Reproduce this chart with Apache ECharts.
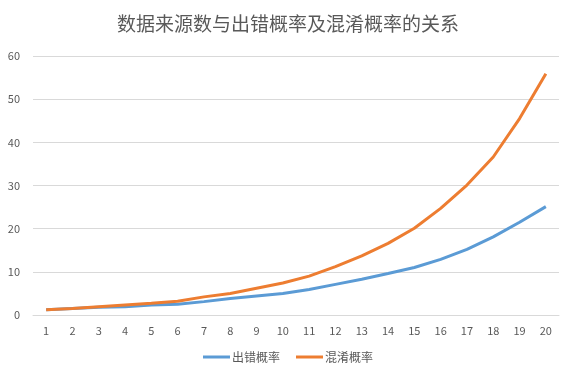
<!DOCTYPE html>
<html>
<head>
<meta charset="utf-8">
<script src="https://cdn.jsdelivr.net/npm/echarts@6/dist/echarts.min.js"></script>
<style>html,body{margin:0;padding:0;background:#fff}#c{width:576px;height:376px}</style>
</head>
<body>
<div id="c"></div>
<script>
var categories = ['1','2','3','4','5','6','7','8','9','10','11','12','13','14','15','16','17','18','19','20'];
var errorProb = [1.2, 1.5, 1.8, 1.9, 2.3, 2.5, 3.1, 3.8, 4.4, 5.0, 5.9, 7.1, 8.3, 9.6, 11.0, 12.9, 15.2, 18.1, 21.5, 25.1];
var confuseProb = [1.2, 1.5, 1.9, 2.3, 2.7, 3.2, 4.2, 5.0, 6.2, 7.4, 9.0, 11.2, 13.7, 16.6, 20.1, 24.7, 30.1, 36.6, 45.5, 55.9];
var seriesNames = ['出错概率', '混淆概率'];
var titleText = '数据来源数与出错概率及混淆概率的关系';

var chart = echarts.init(document.getElementById('c'), null, {renderer: 'canvas'});
var font = '"Noto Sans CJK SC", "Noto Sans", sans-serif';
chart.setOption({
  animation: false,
  backgroundColor: '#fff',
  title: {
    text: titleText, left: 'center', top: 9,
    textStyle: {fontFamily: font, fontSize: 19, fontWeight: 'normal', color: '#595959'}
  },
  legend: {
    bottom: 8, left: 'center', icon: 'rect', itemWidth: 27, itemHeight: 3, itemGap: 16,
    textStyle: {fontFamily: font, fontSize: 12, color: '#595959', padding: [0, 0, 0, -3]},
    data: seriesNames
  },
  grid: {left: 33, right: 17, top: 56, bottom: 61, containLabel: false},
  xAxis: {
    type: 'category', data: categories, boundaryGap: true,
    axisLine: {lineStyle: {color: '#d9d9d9'}},
    axisTick: {show: false},
    axisLabel: {color: '#595959', fontSize: 11, fontFamily: font, margin: 10}
  },
  yAxis: {
    type: 'value', min: 0, max: 60, interval: 10,
    axisLine: {show: false}, axisTick: {show: false},
    axisLabel: {color: '#595959', fontSize: 11, fontFamily: font, margin: 13},
    splitLine: {lineStyle: {color: '#d9d9d9'}}
  },
  series: [
    {name: seriesNames[0], type: 'line', data: errorProb, showSymbol: false, symbol: 'none',
     lineStyle: {width: 3, color: '#5B9BD5'}, itemStyle: {color: '#5B9BD5'}},
    {name: seriesNames[1], type: 'line', data: confuseProb, showSymbol: false, symbol: 'none',
     lineStyle: {width: 3, color: '#ED7D31'}, itemStyle: {color: '#ED7D31'}}
  ]
});
</script>
</body>
</html>
